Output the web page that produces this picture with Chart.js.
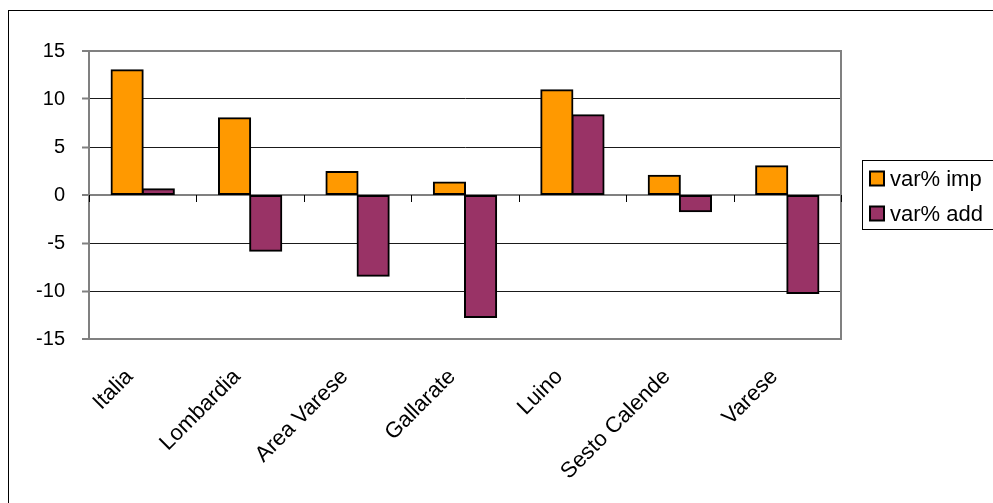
<!DOCTYPE html>
<html>
<head>
<meta charset="utf-8">
<script src="https://cdn.jsdelivr.net/npm/chart.js@4/dist/chart.umd.min.js"></script>
<style>
  html, body { margin: 0; padding: 0; background: #fff; }
  canvas { display: block; }
</style>
</head>
<body>
<canvas id="varChart" width="993" height="503"></canvas>
<script>
// Data
const categories = ['Italia', 'Lombardia', 'Area Varese', 'Gallarate', 'Luino', 'Sesto Calende', 'Varese'];
const varImp = [13.0, 8.0, 2.4, 1.3, 10.9, 2.0, 3.0];
const varAdd = [0.6, -5.8, -8.4, -12.7, 8.3, -1.7, -10.2];
const seriesNames = ['var% imp', 'var% add'];
const seriesColors = ['#FF9900', '#993366'];
const yTicks = [-15, -10, -5, 0, 5, 10, 15];

const FONT = 'Liberation Sans, Arial, sans-serif';

// Frame, plot border, category ticks at zero and the legend box
const excelLook = {
    id: 'excelLook',
    beforeDraw(chart) {
        const c = chart.ctx;
        c.save();
        c.fillStyle = '#fff';
        c.fillRect(0, 0, chart.width, chart.height);
        c.strokeStyle = '#000';
        c.lineWidth = 1;
        c.strokeRect(8.5, 10.5, 1100, 600);
        c.restore();
    },
    beforeDatasetsDraw(chart) {
        const a = chart.chartArea;
        const c = chart.ctx;
        c.save();
        c.strokeStyle = '#808080';
        c.lineWidth = 2;
        c.strokeRect(a.left, a.top, a.right - a.left, a.bottom - a.top);
        c.restore();
    },
    afterDatasetsDraw(chart) {
        const c = chart.ctx;
        const xs = chart.scales.x;
        const y0 = chart.scales.y.getPixelForValue(0);
        const n = categories.length;
        c.save();
        c.strokeStyle = '#000';
        c.lineWidth = 1;
        for (let i = 0; i <= n; i++) {
            let x;
            if (i === 0) x = xs.left;
            else if (i === n) x = xs.right;
            else x = (xs.getPixelForTick(i - 1) + xs.getPixelForTick(i)) / 2;
            x = Math.round(x) + 0.5;
            c.beginPath();
            c.moveTo(x, y0);
            c.lineTo(x, y0 + 7);
            c.stroke();
        }

        // legend
        c.strokeStyle = '#000';
        c.strokeRect(862.5, 160.5, 140, 69);
        c.font = '22px ' + FONT;
        c.textBaseline = 'middle';
        c.textAlign = 'left';
        const rows = [178.5, 213.5];
        rows.forEach((ry, i) => {
            c.fillStyle = seriesColors[i];
            c.fillRect(870, ry - 7, 14, 14);
            c.lineWidth = 2;
            c.strokeStyle = '#000';
            c.strokeRect(870, ry - 7, 14, 14);
            c.fillStyle = '#000';
            c.fillText(seriesNames[i], 890, ry + 1);
        });
        c.restore();
    }
};

const ctx = document.getElementById('varChart').getContext('2d');
const varChart = new Chart(ctx, {
    type: 'bar',
    data: {
        labels: categories,
        datasets: [{
            label: seriesNames[0],
            data: varImp,
            backgroundColor: seriesColors[0],
            borderColor: '#000',
            borderWidth: 2,
            borderSkipped: false,
            inflateAmount: 1
        }, {
            label: seriesNames[1],
            data: varAdd,
            backgroundColor: seriesColors[1],
            borderColor: '#000',
            borderWidth: 2,
            borderSkipped: false,
            inflateAmount: 1
        }]
    },
    options: {
        responsive: false,
        animation: false,
        layout: {
            padding: { left: 0, top: 51, right: 152, bottom: 0 }
        },
        datasets: {
            bar: {
                barPercentage: 1,
                categoryPercentage: 0.58
            }
        },
        plugins: {
            legend: { display: false },
            tooltip: { enabled: false }
        },
        scales: {
            y: {
                min: -15,
                max: 15,
                afterFit: scale => { scale.width = 89; },
                afterBuildTicks: scale => { scale.ticks = yTicks.map(v => ({ value: v })); },
                border: { display: true, color: '#808080', width: 2 },
                grid: {
                    color: c => (c.tick && (c.tick.value === 0 || Math.abs(c.tick.value) === 15)) ? '#808080' : '#1a1a1a',
                    lineWidth: c => (c.tick && (c.tick.value === 0 || Math.abs(c.tick.value) === 15)) ? 2 : 1,
                    tickColor: '#808080',
                    tickLength: 7,
                    tickWidth: 2
                },
                ticks: {
                    color: '#000',
                    padding: 17,
                    font: { family: FONT, size: 20 }
                }
            },
            x: {
                afterFit: scale => { scale.height = 164; },
                border: { display: false },
                grid: { display: false, drawTicks: false },
                ticks: {
                    color: '#000',
                    minRotation: 45,
                    maxRotation: 45,
                    autoSkip: false,
                    padding: 25,
                    labelOffset: -13,
                    font: { family: FONT, size: 22 }
                }
            }
        }
    },
    plugins: [excelLook]
});
</script>
</body>
</html>
